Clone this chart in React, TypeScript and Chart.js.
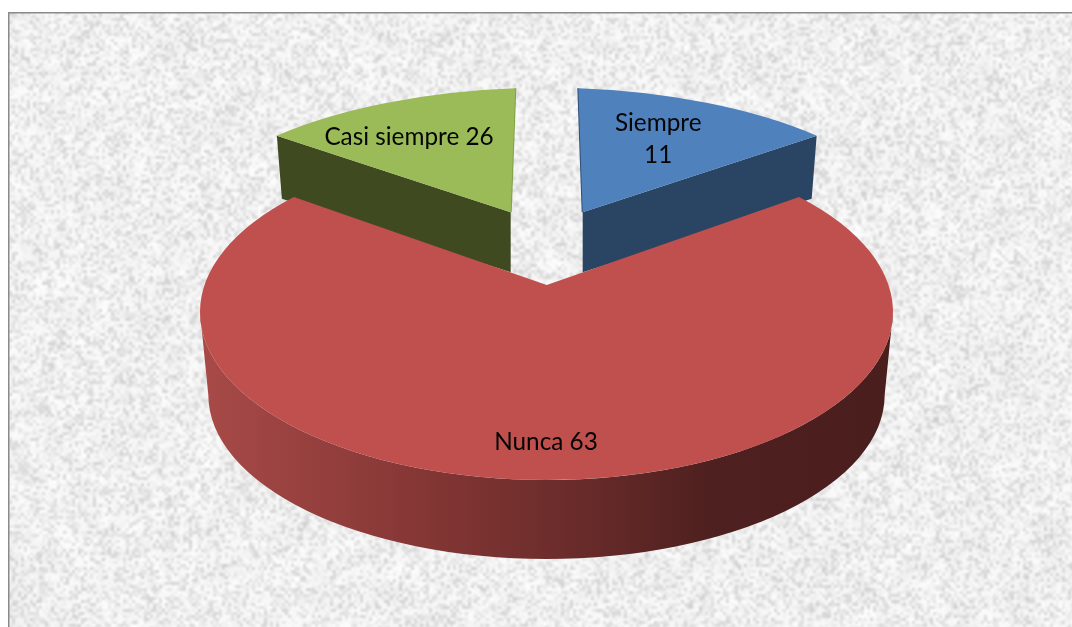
import React, { useEffect, useRef } from "react";
import { Chart, registerables } from "chart.js";

Chart.register(...registerables);

// Printed label text, as it reads on the chart.
const categories = ["Siempre", "Nunca", "Casi siempre"];
const printedValues = [11, 63, 26];
const drawnShares = [13, 74, 13];
const labelLines = [["Siempre", "11"], ["Nunca 63"], ["Casi siempre 26"]];

const topColors = ["#4f81bd", "#bf504d", "#9bbb59"];
const wallColors = ["#2a4563", "#bf504d", "#404a21"];
const edgeColors = ["#2f4f75", "#bf504d", "#7f9f4a"];

// Per-slice projection of the flat pie: [a, b, c, d, centreX, centreY], in px per unit radius.
const poses = [
  [325.1, 11.36, 4.4, 124, 582.7, 212.3],
  [346.5, 0, 0, 168, 546.5, 312],
  [325.1, -11.36, -4.6, 124, 510.7, 212.3],
];
const labelOffsets = [[75.5, -73], [-0.5, 130], [-101.7, -75]];
const WIDTH = 1072;
const HEIGHT = 627;

function hash(x: number, y: number) {
  const s = Math.sin(x * 127.1 + y * 311.7) * 43758.5453;
  return s - Math.floor(s);
}

function makeTexture() {
  const out = document.createElement("canvas");
  out.width = WIDTH;
  out.height = HEIGHT;
  const octx = out.getContext("2d")!;
  octx.fillStyle = "#f6f6f6";
  octx.fillRect(0, 0, WIDTH, HEIGHT);
  octx.imageSmoothingEnabled = true;
  octx.imageSmoothingQuality = "high";
  const layers = [
    { cell: 3, alpha: 1, lo: 252, span: 52, pow: 2.2, seed: 1 },
    { cell: 11, alpha: 0.3, lo: 255, span: 36, pow: 1.3, seed: 7 },
  ];
  for (const l of layers) {
    const w = Math.ceil(WIDTH / l.cell) + 1;
    const h = Math.ceil(HEIGHT / l.cell) + 1;
    const c = document.createElement("canvas");
    c.width = w;
    c.height = h;
    const cx = c.getContext("2d")!;
    const img = cx.createImageData(w, h);
    for (let y = 0; y < h; y++) {
      for (let x = 0; x < w; x++) {
        const v = l.lo - Math.pow(hash(x + l.seed, y + l.seed * 3), l.pow) * l.span;
        const i = (y * w + x) * 4;
        img.data[i] = v;
        img.data[i + 1] = v;
        img.data[i + 2] = v;
        img.data[i + 3] = 255;
      }
    }
    cx.putImageData(img, 0, 0);
    octx.globalAlpha = l.alpha;
    octx.drawImage(c, 0, 0, w * l.cell, h * l.cell);
  }
  octx.globalAlpha = 1;
  return out;
}

function project(pose: number[], arc: any, angle: number, frac = 1) {
  const ux = Math.cos(angle) * frac;
  const uy = Math.sin(angle) * frac;
  return {
    x: pose[4] + pose[0] * ux + pose[2] * uy,
    y: pose[5] + pose[1] * ux + pose[3] * uy,
  };
}

function drawArc(ctx: CanvasRenderingContext2D, arc: any, pose: number[]) {
  const R = arc.outerRadius;
  ctx.save();
  ctx.translate(pose[4], pose[5]);
  ctx.transform(pose[0] / R, pose[1] / R, pose[2] / R, pose[3] / R, 0, 0);
  ctx.translate(-arc.x, -arc.y);
  arc.draw(ctx);
  ctx.restore();
}

function poly(ctx: CanvasRenderingContext2D, pts: { x: number; y: number }[], fill: string) {
  ctx.beginPath();
  pts.forEach((p, i) => (i ? ctx.lineTo(p.x, p.y) : ctx.moveTo(p.x, p.y)));
  ctx.closePath();
  ctx.fillStyle = fill;
  ctx.fill();
}

function drawSmallSlice(ctx: CanvasRenderingContext2D, arc: any, i: number, outerAngle: number, innerAngle: number) {
  const pose = poses[i];
  const apex = { x: pose[4], y: pose[5] };
  const corner = project(pose, arc, outerAngle);
  const inner = project(pose, arc, innerAngle);
  const shrink = corner.x > apex.x ? -5 : 5;
  poly(ctx, [apex, corner, { x: corner.x + shrink, y: corner.y + 63 }, { x: apex.x, y: apex.y + 60 }], wallColors[i]);
  ctx.beginPath();
  ctx.moveTo(inner.x, inner.y);
  ctx.lineTo(apex.x, apex.y);
  ctx.lineWidth = 2;
  ctx.strokeStyle = edgeColors[i];
  ctx.stroke();
  drawArc(ctx, arc, pose);
}

function drawBigSlice(ctx: CanvasRenderingContext2D, arc: any, i: number) {
  const pose = poses[i];
  const cx = pose[4];
  const cy = pose[5];
  const a = pose[0];
  const b = pose[3];
  // Side wall: lower rim of the top face down to a slightly smaller, nearer rim.
  const g = ctx.createLinearGradient(cx - a, 0, cx + a, 0);
  g.addColorStop(0, "#a84a48");
  g.addColorStop(0.33, "#833634");
  g.addColorStop(0.55, "#682b2a");
  g.addColorStop(0.74, "#4e201f");
  g.addColorStop(1, "#4b1e1e");
  ctx.beginPath();
  ctx.ellipse(cx, cy, a, b, 0, 0, Math.PI, false);
  ctx.lineTo(cx - a * 0.976, cy + 83);
  ctx.ellipse(cx, cy + 83, a * 0.976, b * 0.976, 0, Math.PI, 0, true);
  ctx.closePath();
  ctx.fillStyle = g;
  ctx.fill();

  drawArc(ctx, arc, pose);
  // The far corner of the big slice sits above the ellipse centre.
  const c1 = project(pose, arc, arc.startAngle);
  const c2 = project(pose, arc, arc.endAngle);
  poly(ctx, [c1, { x: cx + 0.2, y: cy - 27 }, c2, { x: cx, y: cy + 40 }], topColors[i]);
}

const pie3d = {
  id: "pie3d",
  beforeDraw(chart: any) {
    const ctx = chart.ctx;
    ctx.save();
    ctx.fillStyle = "#ffffff";
    ctx.fillRect(0, 0, WIDTH, HEIGHT);
    ctx.drawImage(makeTexture(), 9, 13, WIDTH - 9, HEIGHT - 13, 9, 13, WIDTH - 9, HEIGHT - 13);
    ctx.fillStyle = "#8a8a8a";
    ctx.fillRect(8, 12, WIDTH - 8, 1.5);
    ctx.fillRect(8, 12, 1.5, HEIGHT - 12);
    ctx.restore();
  },
  beforeDatasetDraw(chart: any, args: any) {
    const ctx = chart.ctx;
    const arcs = args.meta.data;
    drawSmallSlice(ctx, arcs[0], 0, arcs[0].endAngle, arcs[0].startAngle);
    drawSmallSlice(ctx, arcs[2], 2, arcs[2].startAngle, arcs[2].endAngle);
    drawBigSlice(ctx, arcs[1], 1);

    ctx.save();
    ctx.fillStyle = "#050505";
    ctx.font = '24.3px "Lato", "Open Sans", sans-serif';
    ctx.textAlign = "center";
    ctx.textBaseline = "middle";
    labelLines.forEach((lines, i) => {
      const lh = 32;
      lines.forEach((line, j) => {
        const x = poses[i][4] + labelOffsets[i][0];
        const y = poses[i][5] + labelOffsets[i][1] + (j - (lines.length - 1) / 2) * lh;
        ctx.fillText(line, x, y);
      });
    });
    ctx.restore();
    return false;
  },
};

export default function App() {
  const ref = useRef<HTMLCanvasElement>(null);
  useEffect(() => {
    document.body.style.margin = "0";
    const chart = new Chart(ref.current!, {
      type: "pie",
      data: {
        labels: categories.map((c, i) => `${c} ${printedValues[i]}`),
        datasets: [
          {
            data: drawnShares,
            backgroundColor: topColors,
            borderWidth: 0,
          },
        ],
      },
      options: {
        responsive: false,
        animation: false,
        devicePixelRatio: 1,
        events: [],
        rotation: 0,
        layout: { padding: 0 },
        plugins: { legend: { display: false }, tooltip: { enabled: false } },
      },
      plugins: [pie3d],
    } as any);
    return () => chart.destroy();
  }, []);
  return (
    <div style={{ width: WIDTH, height: HEIGHT, overflow: "hidden" }}>
      <canvas ref={ref} width={WIDTH} height={HEIGHT} style={{ display: "block" }} />
    </div>
  );
}
